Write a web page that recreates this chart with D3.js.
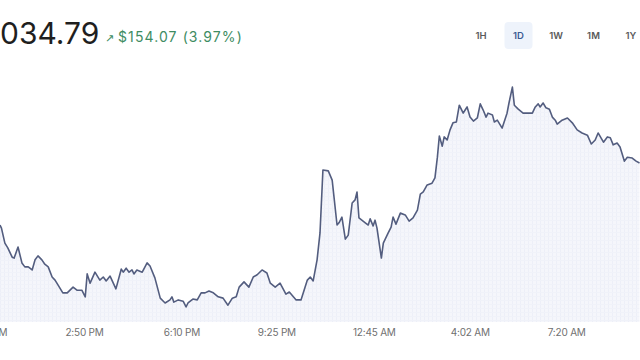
<!DOCTYPE html>
<html>
<head>
<meta charset="utf-8">
<script src="https://cdn.jsdelivr.net/npm/d3@7"></script>
<style>
  html, body { margin: 0; padding: 0; background: #ffffff; }
  svg { display: block; }
</style>
</head>
<body>
<svg id="chart" width="640" height="360"></svg>
<script>
// ---- Data ----
const startTime = "2024-03-11T11:57:30";
const endMinute = 1314;
// minutes after startTime
const minutesFromStart = [
  0,3,10,16,25,29,37,45,51,58,66,72,78,86,92,99,107,113,119,129,138,150,158,168,175,179,185,195,205,212,
  218,226,238,249,253,259,265,271,275,281,292,302,308,318,329,339,349,353,357,366,376,382,386,396,405,413,421,429,438,448,
  458,468,477,485,491,501,511,520,528,538,548,555,565,575,587,594,608,618,631,637,643,651,657,663,674,682,692,696,702,709,
  715,723,729,733,737,750,756,760,766,770,774,783,787,797,803,807,813,822,832,840,848,857,863,869,877,887,893,898,902,908,
  912,918,924,930,937,943,951,955,959,965,972,980,986,992,998,1002,1011,1015,1021,1031,1041,1045,1052,1056,1064,1074,1085,1093,1099,1105,
  1109,1115,1121,1128,1134,1140,1144,1154,1165,1175,1185,1195,1206,1214,1222,1228,1239,1247,1253,1259,1267,1273,1282,1288,1298,1306,1313
];
const prices = [
  3894,3887,3853,3842,3821,3819,3844,3808,3799,3799,3792,3815,3824,3815,3805,3799,3776,3769,3758,3740,3740,3753,3746,3746,3731,3783,3762,3787,3769,3776,
  3767,3778,3749,3794,3787,3796,3787,3792,3783,3792,3787,3808,3801,3774,3728,3717,3724,3731,3719,3724,3721,3708,3717,3726,3724,3740,3740,3744,3740,3731,
  3728,3712,3728,3731,3753,3765,3753,3776,3781,3792,3785,3762,3753,3762,3737,3742,3724,3724,3769,3776,3767,3815,3876,4019,4017,3996,3894,3899,3912,3862,
  3871,3944,3951,3969,3910,3899,3894,3908,3892,3905,3887,3819,3853,3876,3889,3912,3896,3921,3917,3903,3910,3928,3964,3969,3985,3989,4001,4048,4096,4073,
  4094,4087,4110,4126,4128,4166,4148,4155,4162,4139,4130,4137,4169,4155,4139,4148,4144,4128,4132,4114,4148,4171,4207,4166,4157,4148,4148,4148,4162,4169,
  4162,4171,4160,4157,4139,4132,4123,4132,4137,4126,4110,4103,4098,4078,4087,4103,4082,4094,4092,4076,4080,4071,4039,4048,4046,4039,4034.79
];
const tickTimes = ["2024-03-11T11:30","2024-03-11T14:50","2024-03-11T18:10","2024-03-11T21:25","2024-03-12T00:45","2024-03-12T04:02","2024-03-12T07:20"];
const headerPrice = "034.79";
const changeText = "$154.07 (3.97%)";
const rangeButtons = ["1H","1D","1W","1M","1Y"];
const activeRange = "1D";

// ---- Drawing ----
const svg = d3.select("#chart");
const W = 640, H = 360;
const start = new Date(startTime);
const parseTick = d3.timeParse("%Y-%m-%dT%H:%M");
const data = minutesFromStart.map((m, i) => ({ t: new Date(start.getTime() + m * 60000), v: prices[i] }));

const x = d3.scaleTime()
  .domain([start, new Date(start.getTime() + endMinute * 60000)])
  .range([0, W]);
const y = d3.scaleLinear().domain([3650, 4250]).range([332.5, 68.2]);
const baseY = 322;

// pattern for the faint textured fill
const defs = svg.append("defs");
const pat = defs.append("pattern").attr("id", "tex").attr("patternUnits", "userSpaceOnUse")
  .attr("width", 4).attr("height", 4);
pat.append("rect").attr("width", 4).attr("height", 4).attr("fill", "#f5f6fb");
pat.append("rect").attr("x", 0).attr("y", 0).attr("width", 1).attr("height", 4).attr("fill", "#edeff8");
pat.append("rect").attr("x", 0).attr("y", 0).attr("width", 4).attr("height", 1).attr("fill", "#f0f2f9");

const area = d3.area().x(d => x(d.t)).y0(baseY).y1(d => y(d.v));
const line = d3.line().x(d => x(d.t)).y(d => y(d.v));

svg.append("path").datum(data).attr("d", area).attr("fill", "url(#tex)");
svg.append("path").datum(data).attr("d", line)
  .attr("fill", "none").attr("stroke", "#535d7f").attr("stroke-width", 1.6)
  .attr("stroke-linejoin", "round");

// x axis
const xAxis = d3.axisBottom(x)
  .tickValues(tickTimes.map(parseTick))
  .tickFormat(d3.timeFormat("%-I:%M %p"))
  .tickSize(0).tickPadding(0);
const gx = svg.append("g").attr("transform", `translate(0,${baseY + 7})`).call(xAxis);
gx.select(".domain").remove();
gx.selectAll("text").attr("fill", "#707070").style("font-family", "Inter, 'Noto Sans', sans-serif")
  .style("font-size", "10px").style("letter-spacing", "-0.2px");

// header
svg.append("text").attr("x", 0).attr("y", 44).text(headerPrice)
  .attr("fill", "#1f1f1f").style("font-family", "Inter, 'Noto Sans', sans-serif")
  .style("font-size", "30px").style("font-weight", 400);
svg.append("text").attr("x", 105).attr("y", 42).text("↗")
  .attr("fill", "#3e8c62").style("font-family", "'DejaVu Sans', sans-serif").style("font-size", "11px");
svg.append("text").attr("x", 118).attr("y", 42).text(changeText)
  .attr("fill", "#3e8c62").style("font-family", "Inter, 'Noto Sans', sans-serif")
  .style("font-size", "14px").style("letter-spacing", "1.1px");

// range buttons
const bx = d3.scalePoint().domain(rangeButtons).range([481, 631]);
svg.append("rect").attr("x", bx(activeRange) - 14).attr("y", 22).attr("width", 28).attr("height", 27)
  .attr("rx", 4).attr("fill", "#eef3fb");
svg.selectAll("text.btn").data(rangeButtons).join("text").attr("class", "btn")
  .attr("x", d => bx(d)).attr("y", 39).attr("text-anchor", "middle").text(d => d)
  .attr("fill", d => d === activeRange ? "#3b5a94" : "#5a5a5a")
  .style("font-family", "Inter, 'Noto Sans', sans-serif").style("font-size", "9.5px").style("font-weight", 600);
</script>
</body>
</html>
